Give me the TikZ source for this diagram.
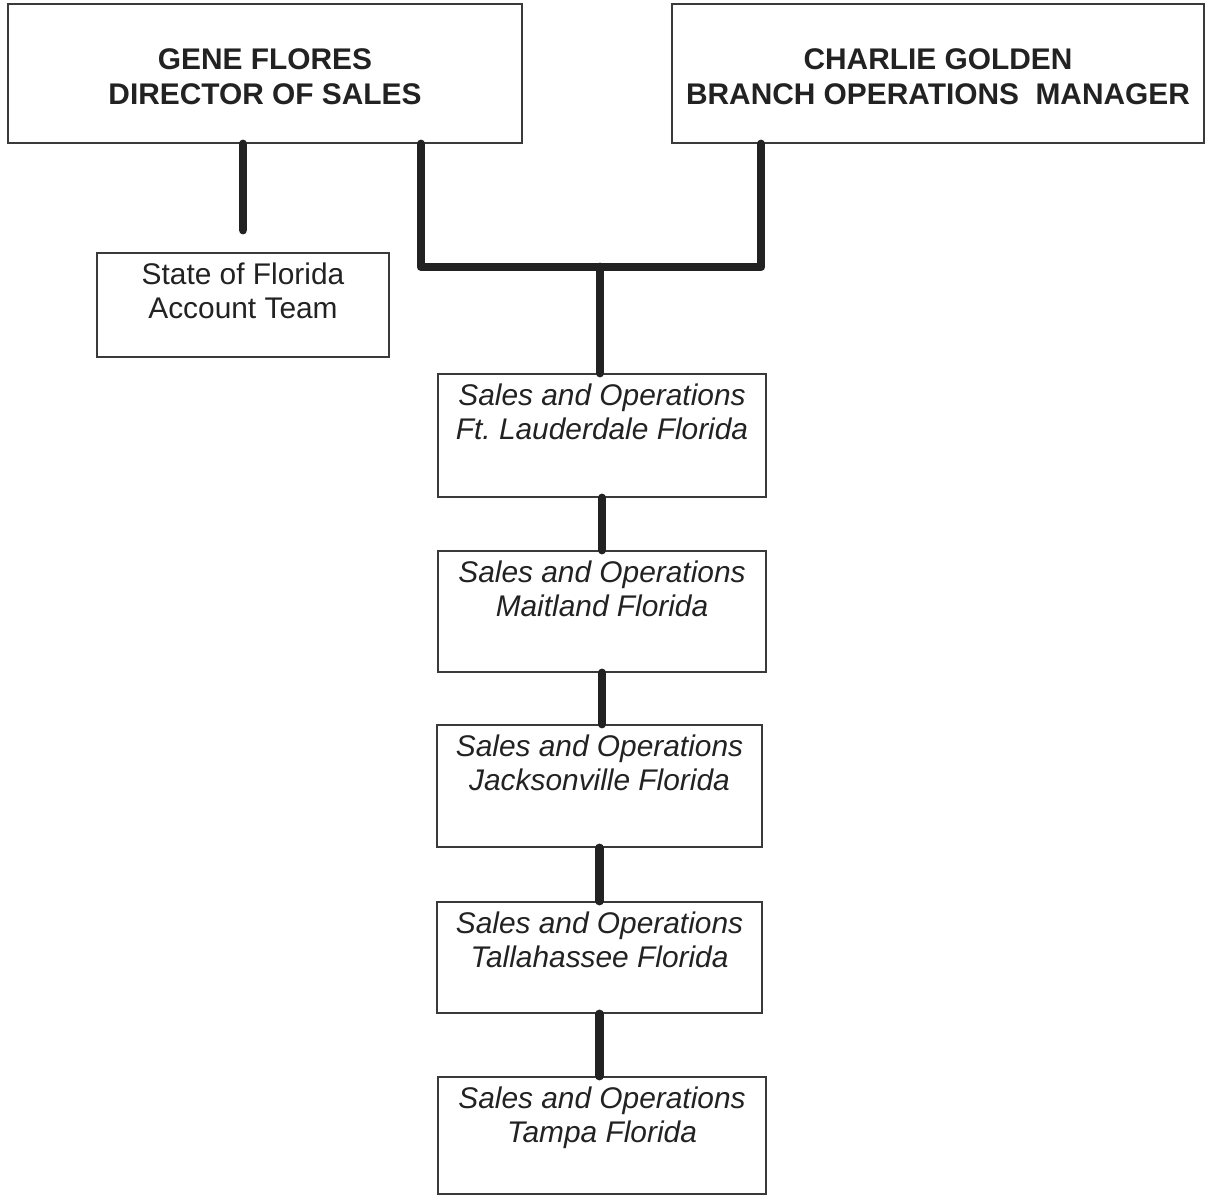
\documentclass[tikz,border=0pt]{standalone}
\usepackage{fontspec}
\setmainfont{Liberation Sans}
\usetikzlibrary{positioning}
\definecolor{inkgray}{HTML}{222222}
\definecolor{edgegray}{HTML}{3A3A3A}

\begin{document}
\begin{tikzpicture}[x=0.02cm, y=-0.02cm,
  unit/.style={draw=edgegray, line width=1.1pt, inner sep=0},
  unittext/.style={inner sep=0, align=center, text=inkgray, font=\fontsize{17}{19.8}\selectfont},
  headtext/.style={unittext, font=\fontsize{17}{19.8}\selectfont\bfseries},
  branchtext/.style={unittext, font=\fontsize{17}{19.8}\selectfont\itshape},
  link/.style={draw=inkgray, line width=5pt, line cap=round, line join=round}]
  \useasboundingbox (0,0) rectangle (1206,1196);

  % top level
  \node[unit, minimum width=10.28cm, minimum height=2.78cm] (gene) at (265,73.5) {};
  \node[headtext, below=0.9cm of gene.north] (genetext) {GENE FLORES\\DIRECTOR OF SALES};
  \node[unit, minimum width=10.64cm, minimum height=2.78cm] (charlie) at (938,73.5) {};
  \node[headtext, below=0.9cm of charlie.north] (charlietext) {CHARLIE GOLDEN\\BRANCH OPERATIONS\ \ MANAGER};

  % account team
  \node[unit, minimum width=5.84cm, minimum height=2.08cm] (team) at (243,305) {};
  \node[unittext, below=0.2cm of team.north] (teamtext) {State of Florida\\Account Team};

  % branches
  \node[unit, minimum width=6.56cm, minimum height=2.46cm] (ftl) at (602,435.5) {};
  \node[branchtext, below=0.2cm of ftl.north] (ftltext) {Sales and Operations\\Ft.\ Lauderdale Florida};
  \node[unit, minimum width=6.56cm, minimum height=2.42cm] (mai) at (602,611.5) {};
  \node[branchtext, below=0.2cm of mai.north] (maitext) {Sales and Operations\\Maitland Florida};
  \node[unit, minimum width=6.5cm, minimum height=2.44cm] (jax) at (599.5,786) {};
  \node[branchtext, below=0.2cm of jax.north] (jaxtext) {Sales and Operations\\Jacksonville Florida};
  \node[unit, minimum width=6.5cm, minimum height=2.22cm] (tlh) at (599.5,957.5) {};
  \node[branchtext, below=0.2cm of tlh.north] (tlhtext) {Sales and Operations\\Tallahassee Florida};
  \node[unit, minimum width=6.56cm, minimum height=2.34cm] (tpa) at (602,1135.5) {};
  \node[branchtext, below=0.2cm of tpa.north] (tpatext) {Sales and Operations\\Tampa Florida};

  % connectors
  \coordinate (hub) at (600,267);
  \coordinate (genefoot) at ([xshift=3.12cm]gene.south);
  \coordinate (charliefoot) at ([xshift=-3.54cm]charlie.south);
  \draw[link] (gene.south -| team.north) -- ([yshift=0.44cm]team.north);
  \draw[link] (genefoot) |- (hub) -| (charliefoot);
  \draw[link] (hub) -- (hub |- ftl.north);
  \foreach \a/\b in {ftl/mai, mai/jax, jax/tlh, tlh/tpa}
    \draw[link] (\a.south) -- (\a.south |- \b.north);
\end{tikzpicture}
\end{document}
